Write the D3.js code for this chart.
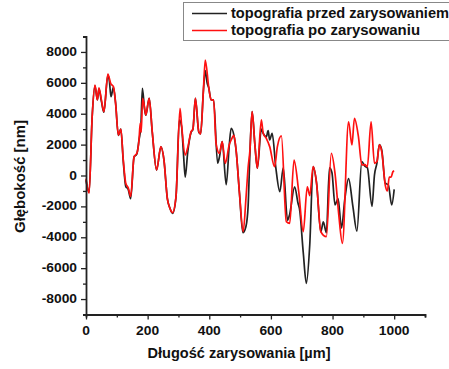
<!DOCTYPE html>
<html><head><meta charset="utf-8">
<script src="https://cdn.jsdelivr.net/npm/d3@7"></script>
<style>body{margin:0;background:#fff}svg{display:block}text{font-family:"Liberation Sans",Arial,sans-serif;font-weight:bold;fill:#111}</style>
</head><body>
<svg id="c" width="449" height="369"></svg>
<script>
const seriesNames = ["topografia przed zarysowaniem", "topografia po zarysowaniu"];
const xTitle = "Długość zarysowania [µm]";
const yTitle = "Głębokość [nm]";
const xTicks = [0, 200, 400, 600, 800, 1000];
const yTicks = [-8000, -6000, -4000, -2000, 0, 2000, 4000, 6000, 8000];

const xBefore = [0,10,20,29,37,42,50,58,71,76,81,89,96,105,113,121,129,137,145,156,165,172,178,183,190,194,205,215,229,243,253,264,272,281,292,303,310,316,322,330,341,347,355,366,372,381,387,393,398,406,414,427,433,442,455,465,471,480,487,498,509,519,526,532,539,548,556,569,575,585,591,596,604,616,629,640,654,661,677,688,693,705,715,726,737,748,762,770,780,790,798,808,818,829,840,852,866,879,895,905,913,928,936,944,952,960,971,981,992,1000];
const yBefore = [-300,-1100,3800,5800,4900,5600,4800,4100,6500,6100,5100,5700,4700,2600,3000,900,-700,-900,-1500,1200,1400,2300,3200,5650,4300,3900,5000,2800,350,1850,1000,-1500,-2100,-2450,-1400,3600,3200,1500,-100,1500,2800,3000,5000,2800,2700,5500,6800,6000,5700,4900,4900,800,1200,2200,-600,2000,3060,2600,1650,-1150,-3700,-3300,-2000,1500,4130,2000,470,3000,2730,2500,2900,2300,2730,500,-1050,500,-2900,-2500,-730,-1800,-2200,-5000,-6980,-4500,570,-470,-3640,-3000,-3700,500,200,-1900,-1500,-3400,-1500,-200,-2000,-3600,900,600,500,-2000,30,800,2000,1600,-500,-600,-1900,-900];

const xAfter = [0,10,20,29,37,42,50,58,71,80,89,96,105,113,121,129,137,145,156,165,172,176,179,184,190,194,205,215,229,243,253,264,272,281,292,305,310,322,330,341,347,355,366,372,381,387,398,406,414,422,433,442,452,465,471,480,487,498,510,519,526,532,539,548,556,569,575,585,596,612,621,634,650,661,675,690,705,718,726,737,748,762,780,796,808,820,832,852,863,871,884,895,905,913,925,936,944,952,960,971,978,984,990,996,1000];
const yAfter = [-200,-1150,3800,5860,4900,5670,4900,4130,6570,5970,5750,4680,2620,3010,1000,-500,-800,-1350,1220,1440,2300,3400,2800,5000,4400,3920,5000,2840,360,1870,1000,-1500,-2100,-2400,-1370,4350,3300,1330,1800,2840,3000,5000,2840,2700,5540,7480,5750,4890,4900,2085,1440,2190,790,2000,2300,2600,1650,-1150,-3640,-1500,500,1650,4130,2000,470,3600,2730,2400,1870,570,1870,2560,-2990,-3100,1000,-1000,-3640,-730,-1300,570,-470,-3640,-3960,1440,140,-2500,-4390,3480,1980,3700,2510,680,700,570,3480,790,900,1980,1500,-615,-1000,-100,-100,250,300];

const colors = ["#222222", "#ff1010"];

const svg = d3.select("#c");
const x = d3.scaleLinear().domain([0, 1100]).range([86, 425]);
const y = d3.scaleLinear().domain([-9000, 9000]).range([314.5, 36.5]);

const line = d3.line().x(d => x(d[0])).y(d => y(d[1])).curve(d3.curveMonotoneX);
const dataB = xBefore.map((v, i) => [v, yBefore[i]]);
const dataA = xAfter.map((v, i) => [v, yAfter[i]]);
[dataB, dataA].forEach((d, i) => {
  svg.append("path").datum(d).attr("d", line).attr("fill", "none")
    .attr("stroke", colors[i]).attr("stroke-width", 1.7).attr("stroke-linejoin", "round");
});

function stretch(sel, f) {
  sel.each(function() {
    const w = this.getComputedTextLength();
    d3.select(this).attr("textLength", w * f).attr("lengthAdjust", "spacingAndGlyphs");
  });
}

// axes
const gx = svg.append("g").attr("transform", "translate(0,314.5)");
gx.call(d3.axisBottom(x).tickValues(d3.range(0, 1101, 100)).tickSize(3).tickFormat(""));
gx.call(g => g.selectAll(".tick").filter(d => xTicks.includes(d)).select("line").attr("y2", 5));
gx.append("g").selectAll("text").data(xTicks).join("text")
  .attr("x", d => x(d)).attr("y", 20).attr("text-anchor", "middle").style("font-size", "12px").text(d => d)
  .call(stretch, 1.15);
const gy = svg.append("g").attr("transform", "translate(86,0)");
gy.call(d3.axisLeft(y).tickValues(d3.range(-9000, 9001, 1000)).tickSize(3).tickFormat(""));
gy.call(g => g.selectAll(".tick").filter(d => yTicks.includes(d)).select("line").attr("x2", -5));
gy.append("g").selectAll("text").data(yTicks).join("text")
  .attr("x", -9).attr("y", d => y(d) + 4).attr("text-anchor", "end").style("font-size", "12px").text(d => d)
  .call(stretch, 1.15);
svg.selectAll(".domain").attr("stroke", "#222").attr("stroke-width", 1.8);
svg.selectAll(".tick line").attr("stroke", "#222").attr("stroke-width", 1.3);

svg.append("text").attr("x", 239).attr("y", 358).attr("text-anchor", "middle").style("font-size", "14px")
  .attr("textLength", 183).attr("lengthAdjust", "spacingAndGlyphs").text(xTitle);
svg.append("text").attr("transform", "translate(25,176.5) rotate(-90)").attr("text-anchor", "middle").style("font-size", "14px")
  .attr("textLength", 113).attr("lengthAdjust", "spacingAndGlyphs").text(yTitle);

// legend
const lg = svg.append("g");
lg.append("rect").attr("x", 183.5).attr("y", 2.5).attr("width", 280).attr("height", 38).attr("fill", "#fff").attr("stroke", "#888");
const legendWidths = [218, 189];
seriesNames.forEach((n, i) => {
  const yy = 13.5 + i * 17;
  lg.append("line").attr("x1", 192).attr("x2", 227).attr("y1", yy).attr("y2", yy).attr("stroke", colors[i]).attr("stroke-width", 1.4);
  lg.append("text").attr("x", 231).attr("y", yy + 4.5).style("font-size", "14px")
    .attr("textLength", legendWidths[i]).attr("lengthAdjust", "spacingAndGlyphs").text(n);
});
</script>
</body></html>
